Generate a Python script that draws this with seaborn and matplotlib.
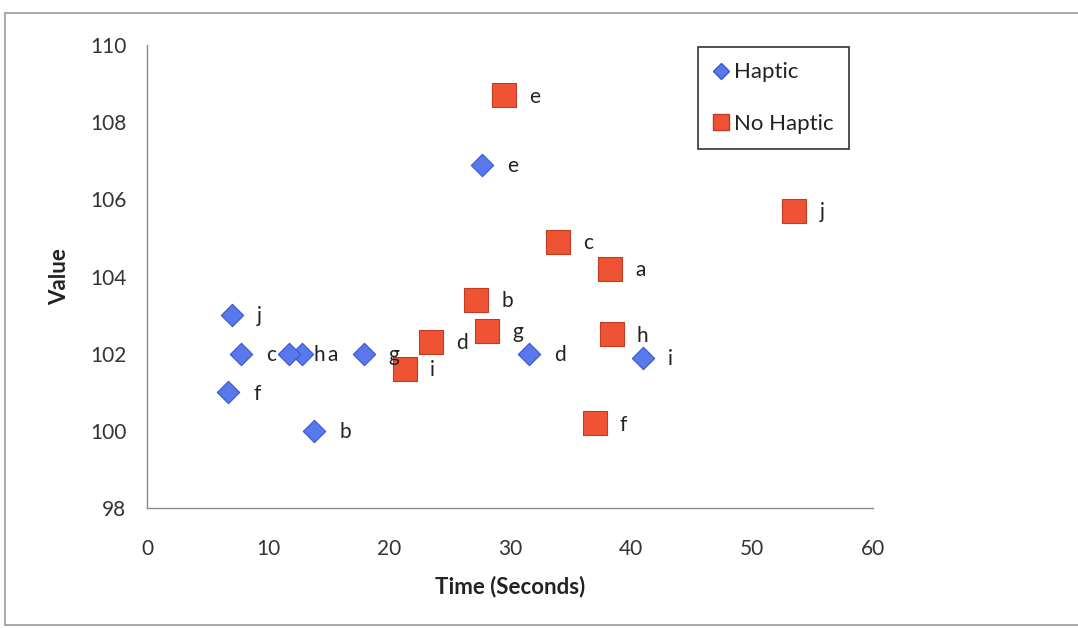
import pandas as pd
import seaborn as sns
import matplotlib.pyplot as plt
from matplotlib.lines import Line2D

# -----------------------------
# DATA
# -----------------------------
haptic_labels = ["a", "b", "c", "d", "e", "f", "g", "h", "i", "j"]
haptic_time = [12.8, 13.8, 7.8, 31.6, 27.7, 6.7, 17.9, 11.7, 41.0, 7.0]
haptic_value = [102.0, 100.0, 102.0, 102.0, 106.9, 101.0, 102.0, 102.0, 101.9, 103.0]

nohaptic_labels = ["a", "b", "c", "d", "e", "f", "g", "h", "i", "j"]
nohaptic_time = [38.3, 27.2, 34.0, 23.5, 29.5, 37.0, 28.1, 38.4, 21.3, 53.5]
nohaptic_value = [104.2, 103.4, 104.9, 102.3, 108.7, 100.2, 102.6, 102.5, 101.6, 105.7]

haptic = pd.DataFrame({"time": haptic_time, "value": haptic_value, "label": haptic_labels})
nohaptic = pd.DataFrame({"time": nohaptic_time, "value": nohaptic_value, "label": nohaptic_labels})

# -----------------------------
# STYLE
# -----------------------------
sns.set_style("white")
plt.rcParams["font.family"] = ["Lato", "DejaVu Sans"]

blue_face, blue_edge = "#5878ec", "#3a58cc"
red_face, red_edge = "#ee5434", "#c23a22"

fig = plt.figure(figsize=(10.78, 6.28), dpi=100)
ax = fig.add_axes([0.1364, 0.1911, 0.6734, 0.7372])

# -----------------------------
# SCATTER
# -----------------------------
sns.scatterplot(data=haptic, x="time", y="value", marker="D", s=130,
                color=blue_face, edgecolor=blue_edge, linewidth=0.8, ax=ax, zorder=3)
sns.scatterplot(data=nohaptic, x="time", y="value", marker="s", s=280,
                color=red_face, edgecolor=red_edge, linewidth=0.8, ax=ax, zorder=3)

# point labels
for df in (haptic, nohaptic):
    for _, r in df.iterrows():
        ax.annotate(r["label"], (r["time"], r["value"]), xytext=(18, -1),
                    textcoords="offset points", ha="left", va="center",
                    fontsize=15, color="#222222", zorder=4)

# -----------------------------
# AXES
# -----------------------------
ax.set_xlim(0, 60)
ax.set_ylim(98, 110)
ax.set_xticks(range(0, 61, 10))
ax.set_yticks(range(98, 111, 2))

for side in ("top", "right"):
    ax.spines[side].set_visible(False)
for side in ("left", "bottom"):
    ax.spines[side].set_color("#8a8a8a")
    ax.spines[side].set_linewidth(1.0)

ax.tick_params(axis="y", direction="out", length=5, color="#8a8a8a",
               labelsize=15, labelcolor="#333333", pad=10)
ax.tick_params(axis="x", direction="in", length=5, color="#8a8a8a",
               labelsize=15, labelcolor="#333333", pad=22)

ax.set_xlabel("Time (Seconds)", fontsize=16, fontweight="bold", color="#222222", labelpad=12)
ax.set_ylabel("Value", fontsize=16, fontweight="bold", color="#222222", labelpad=14)

# -----------------------------
# LEGEND
# -----------------------------
handles = [
    Line2D([], [], linestyle="none", marker="D", markersize=8,
           markerfacecolor=blue_face, markeredgecolor=blue_edge, label="Haptic"),
    Line2D([], [], linestyle="none", marker="s", markersize=12,
           markerfacecolor=red_face, markeredgecolor=red_edge, label="No Haptic"),
]
leg = ax.legend(handles=handles, loc="upper left", bbox_to_anchor=(0.759, 0.996),
                fontsize=16, frameon=True, fancybox=False, labelspacing=1.4,
                handlelength=0.7, handletextpad=0.2, borderpad=0.7,
                borderaxespad=0, edgecolor="black")
leg.get_frame().set_linewidth(1.2)
for t in leg.get_texts():
    t.set_color("#222222")

# outer chart border
border_kw = dict(color="#9a9a9a", linewidth=1.2, transform=fig.transFigure)
fig.add_artist(Line2D([5 / 1078, 1.0], [1 - 13 / 628, 1 - 13 / 628], **border_kw))
fig.add_artist(Line2D([5 / 1078, 5 / 1078], [1 - 13 / 628, 1 - 625 / 628], **border_kw))
fig.add_artist(Line2D([5 / 1078, 1.0], [1 - 625 / 628, 1 - 625 / 628], **border_kw))

fig.savefig("out.png", dpi=100)
